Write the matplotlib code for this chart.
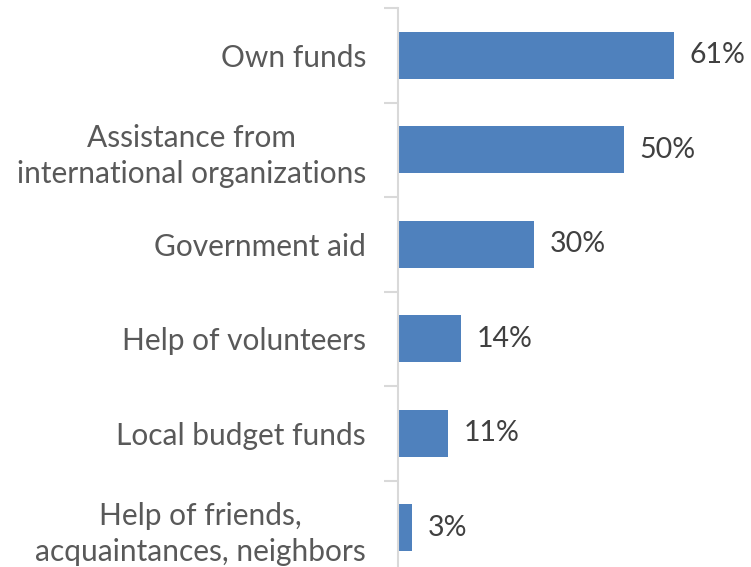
import matplotlib.pyplot as plt

# Sources of funding, share of respondents (%)
categories = ['Own funds',
              'Assistance from\ninternational organizations',
              'Government aid',
              'Help of volunteers',
              'Local budget funds',
              'Help of friends,\nacquaintances, neighbors']
shares = [61, 50, 30, 14, 11, 3]

plt.rcParams['font.family'] = ['Lato', 'DejaVu Sans']

fig = plt.figure(figsize=(7.51, 5.67), dpi=100)
ax = fig.add_axes([398 / 751, -8 / 567, 353 / 751, 567 / 567])

pos = list(range(len(categories)))
ax.barh(pos, shares, height=0.5, color='#4F81BD')
ax.set_ylim(len(categories) - 0.5, -0.5)
ax.set_xlim(0, 353 / 4.52)

for y, v in zip(pos, shares):
    ax.text(v + 3.5, y, '%d%%' % v, va='center', ha='left',
            fontsize=20.5, color='#404040')

ax.set_yticks(pos)
ax.set_yticklabels(categories, fontsize=21.5, color='#595959',
                   multialignment='center', linespacing=1.35)
ax.set_yticks([p - 0.5 for p in pos] + [len(pos) - 0.5], minor=True)
ax.tick_params(axis='y', which='major', length=0, pad=23)
ax.tick_params(axis='y', which='minor', length=10, width=1.5, color='#D9D9D9')
ax.set_xticks([])

for s in ['top', 'right', 'bottom']:
    ax.spines[s].set_visible(False)
ax.spines['left'].set_color('#D9D9D9')
ax.spines['left'].set_linewidth(1.5)

fig.savefig('out.png', dpi=100)
